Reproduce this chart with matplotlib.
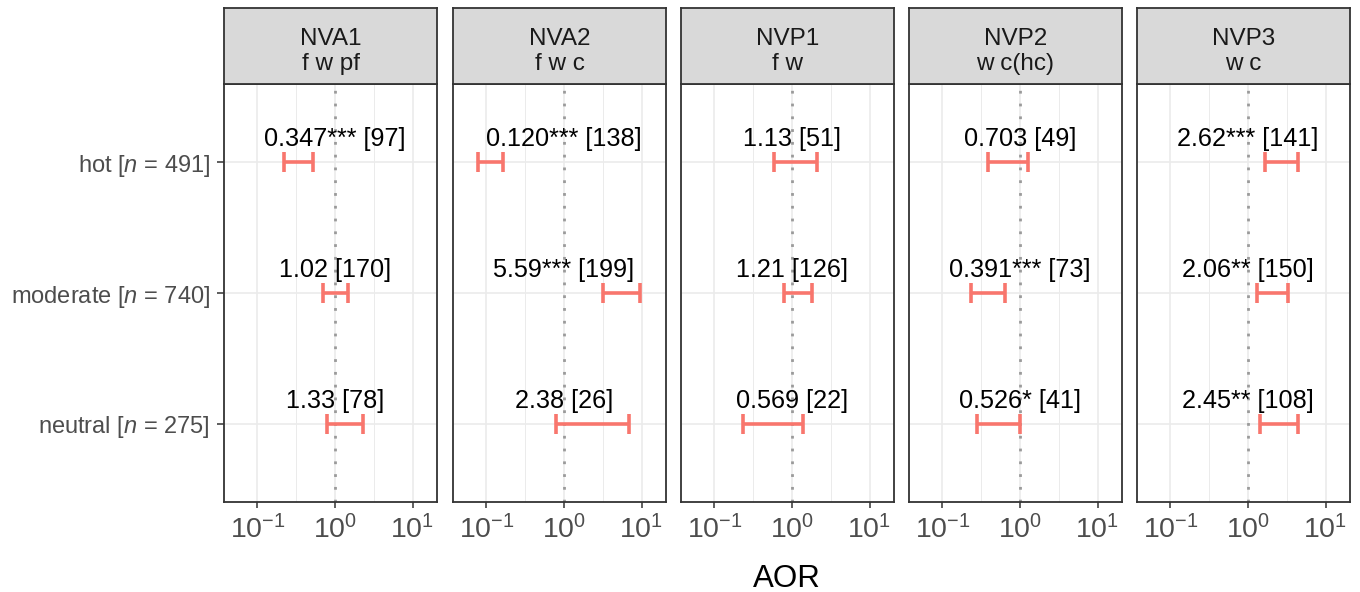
import numpy as np
import matplotlib
matplotlib.use("Agg")
import matplotlib.pyplot as plt
from matplotlib.ticker import FixedLocator, FuncFormatter, NullFormatter

plt.rcParams['font.family'] = ['Liberation Sans', 'DejaVu Sans']
plt.rcParams['mathtext.fontset'] = 'custom'
plt.rcParams['mathtext.rm'] = 'Liberation Sans'
plt.rcParams['mathtext.it'] = 'Liberation Sans:italic'
plt.rcParams['mathtext.bf'] = 'Liberation Sans:bold'

# ---------------- data ----------------
panels = ["NVA1", "NVA2", "NVP1", "NVP2", "NVP3"]
subtitles = ["f w pf", "f w c", "f w", "w c(hc)", "w c"]
categories = ["neutral", "moderate", "hot"]
cat_n = [275, 740, 491]

# order within each list: neutral, moderate, hot
est_text = {
    "NVA1": ["1.33", "1.02", "0.347"],
    "NVA2": ["2.38", "5.59", "0.120"],
    "NVP1": ["0.569", "1.21", "1.13"],
    "NVP2": ["0.526", "0.391", "0.703"],
    "NVP3": ["2.45", "2.06", "2.62"],
}
stars = {
    "NVA1": ["", "", "***"],
    "NVA2": ["", "***", "***"],
    "NVP1": ["", "", ""],
    "NVP2": ["*", "***", ""],
    "NVP3": ["**", "**", "***"],
}
counts = {
    "NVA1": [78, 170, 97],
    "NVA2": [26, 199, 138],
    "NVP1": [22, 126, 51],
    "NVP2": [41, 73, 49],
    "NVP3": [108, 150, 141],
}
ci_low = {
    "NVA1": [0.79, 0.70, 0.22],
    "NVA2": [0.78, 3.16, 0.077],
    "NVP1": [0.235, 0.79, 0.59],
    "NVP2": [0.281, 0.233, 0.383],
    "NVP3": [1.43, 1.29, 1.64],
}
ci_high = {
    "NVA1": [2.30, 1.47, 0.52],
    "NVA2": [6.87, 9.43, 0.165],
    "NVP1": [1.38, 1.80, 2.09],
    "NVP2": [1.00, 0.646, 1.28],
    "NVP3": [4.38, 3.31, 4.38],
}
x_ticks = [0.1, 1, 10]
x_minor = [10 ** -0.5, 10 ** 0.5]

# ---------------- figure ----------------
W, H = 1360, 592
fig = plt.figure(figsize=(W / 100, H / 100), dpi=100)

red = "#F8766D"
grid_c = "#EBEBEB"
border_c = "#333333"
strip_bg = "#D9D9D9"

panel_top_px, panel_bot_px = 84, 502
strip_top_px = 8
pw = 213
lefts = [224, 453, 681, 909, 1137]

ypos = np.arange(1, len(categories) + 1)

for i, p in enumerate(panels):
    lp = lefts[i]
    ax = fig.add_axes([lp / W, (H - panel_bot_px) / H, pw / W,
                       (panel_bot_px - panel_top_px) / H])
    ax.set_xscale('log')
    ax.set_xlim(10 ** -1.432, 10 ** 1.316)
    ax.set_ylim(0.4, 3.6)
    ax.set_axisbelow(True)

    ax.xaxis.set_major_locator(FixedLocator(x_ticks))
    ax.xaxis.set_minor_locator(FixedLocator(x_minor))
    ax.xaxis.set_major_formatter(FuncFormatter(
        lambda v, pos: r"$10^{%d}$" % int(round(np.log10(v)))))
    ax.xaxis.set_minor_formatter(NullFormatter())
    ax.grid(True, which='major', axis='both', color=grid_c, lw=1.2)
    ax.grid(True, which='minor', axis='x', color=grid_c, lw=0.7)

    ax.set_yticks(ypos)
    if i == 0:
        labels = [r"%s [$\mathit{n}$ = %d]" % (c, n) for c, n in zip(categories, cat_n)]
        ax.set_yticklabels(labels, fontsize=17, color="#4D4D4D")
        ax.tick_params(axis='y', length=5, width=1.1, color=border_c, pad=5)
    else:
        ax.set_yticklabels([])
        ax.tick_params(axis='y', length=0)
    ax.tick_params(axis='x', which='major', length=4.5, width=1.1, color=border_c,
                   labelsize=20.5, labelcolor="#4D4D4D", pad=5)
    ax.tick_params(axis='x', which='minor', length=0)

    for s in ax.spines.values():
        s.set_color(border_c)
        s.set_linewidth(1.3)

    ax.axvline(1.0, color="#9A9A9A", lw=2.0, ls=(0, (1, 3.6)), zorder=1.5)

    est_vals = np.array([float(v) for v in est_text[p]])
    lo = np.array(ci_low[p])
    hi = np.array(ci_high[p])
    ax.errorbar(est_vals, ypos, xerr=[est_vals - lo, hi - est_vals], fmt='none',
                ecolor=red, elinewidth=2.6, capsize=7.2, capthick=2.6, zorder=3)

    for j in range(len(categories)):
        lab = "%s%s [%d]" % (est_text[p][j], stars[p][j], counts[p][j])
        ax.annotate(lab, xy=(1.0, ypos[j]), xytext=(0, 16), textcoords='offset pixels',
                    ha='center', va='baseline', fontsize=18.2, color='black', zorder=4)

    # strip
    sax = fig.add_axes([lp / W, (H - panel_top_px) / H, pw / W,
                        (panel_top_px - strip_top_px) / H])
    sax.set_facecolor(strip_bg)
    sax.set_xticks([])
    sax.set_yticks([])
    for s in sax.spines.values():
        s.set_color(border_c)
        s.set_linewidth(1.3)
    sax.text(0.5, (panel_top_px - 45) / (panel_top_px - strip_top_px), p,
             ha='center', va='baseline', fontsize=17.5, color="#1A1A1A",
             transform=sax.transAxes)
    sax.text(0.5, (panel_top_px - 70) / (panel_top_px - strip_top_px), subtitles[i],
             ha='center', va='baseline', fontsize=17.5, color="#1A1A1A",
             transform=sax.transAxes)

fig.text((lefts[0] + lefts[-1] + pw) / 2 / W, (H - 587) / H, "AOR",
         ha='center', va='baseline', fontsize=22.5, color='black')

fig.savefig("out.png", dpi=100)
